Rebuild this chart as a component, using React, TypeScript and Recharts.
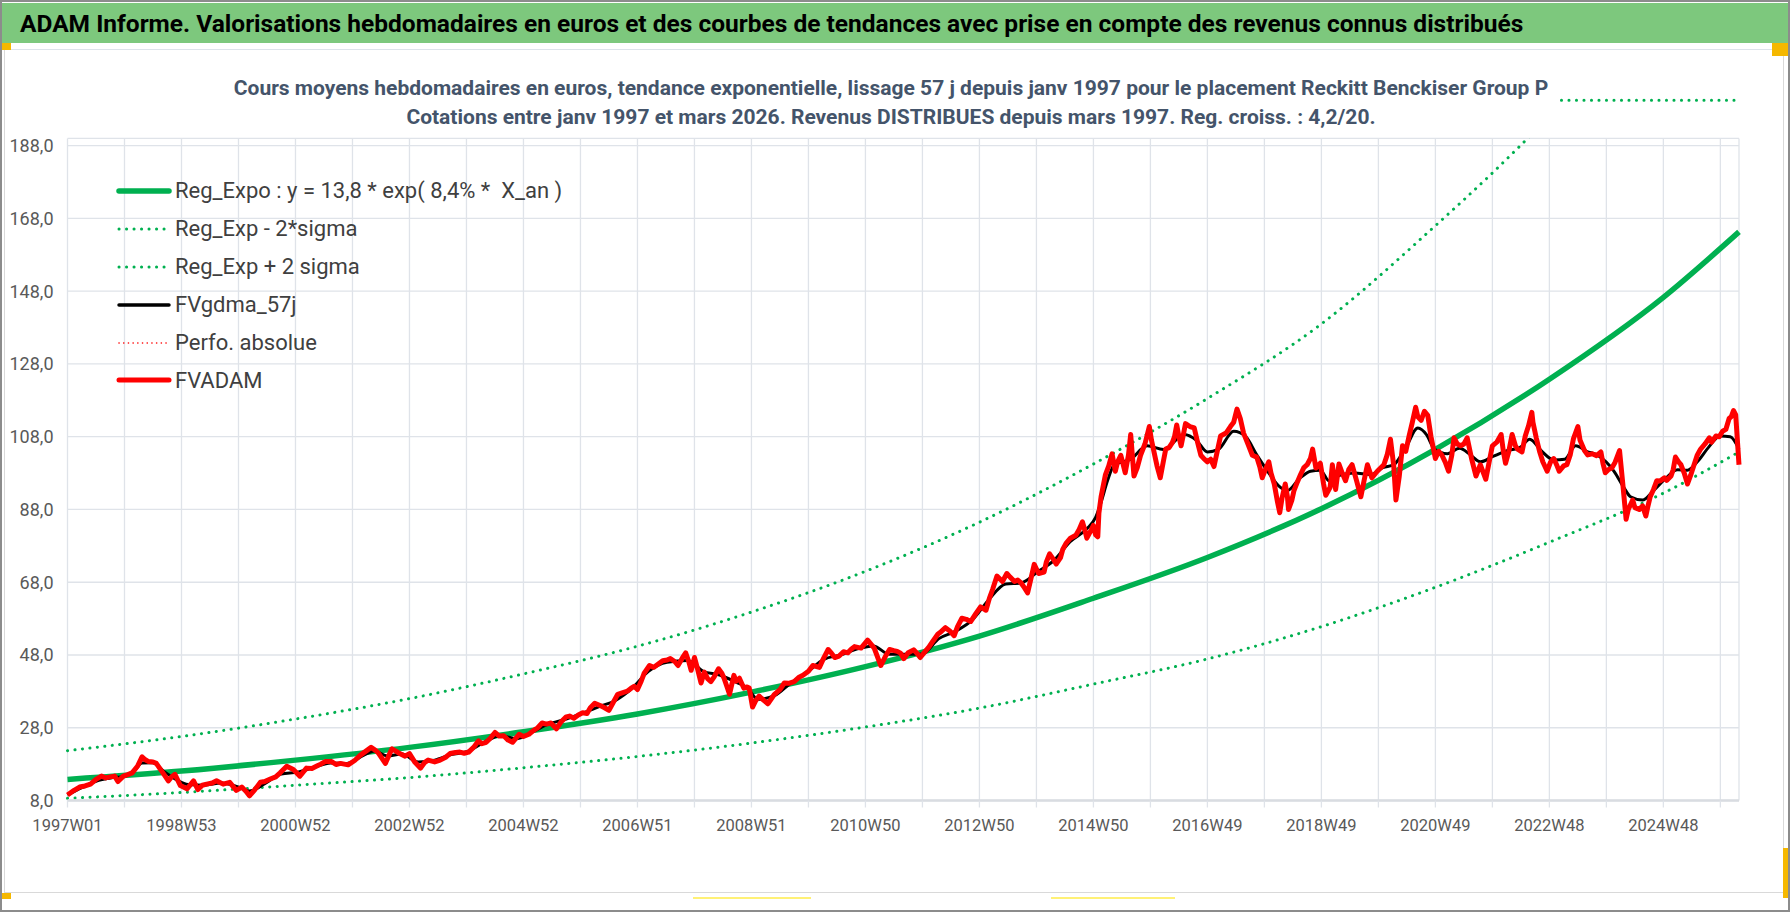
import { CartesianGrid, Line, LineChart, ReferenceLine, XAxis, YAxis } from 'recharts'

const WEEK_LABELS = [
  '1997W01', '1998W53', '2000W52', '2002W52', '2004W52', '2006W51', '2008W51', '2010W50',
  '2012W50', '2014W50', '2016W49', '2018W49', '2020W49', '2022W48', '2024W48',
]
const Y_TICKS = [8, 28, 48, 68, 88, 108, 128, 148, 168, 188]

// [week index, value]
const REG_EXPO: [number, number][] = [
  [0, 13.8], [104, 16.1], [208, 19.1], [312, 22.6], [416, 26.9], [520, 31.8], [624, 37.8],
  [728, 44.8], [832, 53.2], [936, 63.6], [1040, 74.8], [1144, 88.2], [1248, 104.5],
  [1352, 123.8], [1456, 146.3], [1525, 164.3],
]
const REG_MINUS: [number, number][] = [
  [0, 8.6], [104, 10.2], [208, 12.2], [312, 14.3], [416, 17], [520, 20.1], [624, 23.8],
  [728, 28.2], [832, 33.4], [936, 40], [1040, 46.9], [1144, 55.8], [1248, 66.6], [1352, 79],
  [1456, 92.5], [1525, 103.8],
]
const REG_PLUS: [number, number][] = [
  [0, 21.7], [104, 25.6], [208, 30.4], [312, 36], [416, 42.8], [520, 50.4], [624, 59.8],
  [728, 71], [832, 84.5], [936, 100.5], [1040, 118.5], [1144, 139], [1248, 166], [1300, 180.5],
  [1352, 196],
]
const FVGDMA: [number, number][] = [
  [0, 9.5], [13, 11.5], [26, 13.3], [39, 14.2], [52, 14.6], [60, 15.8], [68, 18.3], [78, 18.4],
  [88, 16], [100, 13.6], [110, 12.4], [125, 12.2], [140, 12.8], [155, 11.8], [166, 10.6],
  [180, 12.6], [195, 15.3], [210, 15.8], [225, 17.1], [240, 18.3], [255, 18.2], [270, 20.4],
  [280, 21.6], [292, 20.2], [305, 20.8], [320, 18.6], [335, 19.1], [350, 20.6], [365, 21.5],
  [380, 24], [395, 25.8], [410, 25], [425, 27], [438, 28.9], [455, 30.4], [470, 32],
  [485, 33.8], [500, 35.5], [515, 38.8], [530, 43.5], [547, 46], [566, 46.5], [580, 43.5],
  [595, 42.5], [610, 40.5], [620, 39], [630, 35.8], [645, 36.8], [660, 40.3], [675, 43.3],
  [690, 46.8], [705, 48], [720, 49.6], [735, 50.5], [750, 48.2], [765, 48.2], [780, 48.3],
  [795, 52.5], [810, 54.5], [825, 57.5], [840, 63], [856, 67.5], [870, 67.8], [885, 70.8],
  [900, 74], [915, 79.2], [930, 82.7], [938, 85.8], [943, 90], [949, 96], [955, 100.3],
  [970, 101.8], [985, 105.5], [1000, 104.5], [1019, 108.6], [1030, 107], [1040, 103.8],
  [1050, 104.5], [1064, 109.5], [1075, 108], [1085, 103], [1095, 98.5], [1105, 94.5],
  [1113, 93.2], [1124, 96.5], [1134, 98.5], [1143, 98.8], [1151, 95.9], [1162, 97.5],
  [1174, 98], [1189, 97.6], [1200, 99.5], [1210, 100.3], [1221, 105], [1232, 110.4],
  [1240, 108.5], [1247, 104.6], [1259, 103.3], [1270, 104.8], [1280, 103], [1289, 101.1],
  [1300, 102.5], [1314, 104.2], [1325, 105], [1334, 107.3], [1345, 104], [1356, 101.6],
  [1366, 101.8], [1376, 105.5], [1386, 104], [1396, 102.9], [1411, 98.5], [1420, 94],
  [1426, 91.5], [1437, 90.6], [1447, 93.2], [1458, 96.5], [1469, 98.9], [1478, 98.8],
  [1487, 101.1], [1497, 105], [1508, 108.2], [1517, 108], [1525, 104.6],
]
const FVADAM: [number, number][] = [
  [0, 9.5], [6, 10.8], [11, 11.7], [16, 12], [21, 12.5], [26, 13.8], [31, 14.7], [35, 14.2],
  [39, 14.5], [43, 14.7], [46, 13.2], [51, 14.7], [55, 15.1], [59, 15.6], [64, 17.5], [68, 20],
  [71, 19.2], [74, 18.7], [78, 18.6], [81, 18.2], [85, 16.5], [88, 15.2], [92, 13.4], [95, 14.5],
  [98, 15.2], [103, 12.1], [109, 11.2], [115, 13.4], [119, 11], [123, 12.2], [127, 12.5],
  [132, 12.8], [136, 13.4], [142, 12.5], [148, 13], [154, 10.8], [159, 11.7], [163, 10.5],
  [166, 9.3], [171, 11], [176, 13], [180, 13.2], [185, 13.9], [190, 14.5], [194, 15.6],
  [200, 17.4], [206, 16.5], [212, 14.7], [218, 16.9], [223, 16.8], [227, 17.4], [231, 18],
  [235, 18.7], [241, 18.7], [245, 17.9], [249, 18.2], [256, 17.8], [262, 19], [267, 20.4],
  [272, 21.5], [277, 22.6], [281, 21.8], [284, 20.9], [290, 18.2], [296, 22.2], [300, 21.5],
  [303, 20.9], [308, 20.2], [312, 20.9], [317, 18.5], [322, 16.9], [326, 18.5], [329, 19.1],
  [335, 18.6], [340, 19.1], [345, 19.9], [349, 20.9], [354, 21.2], [358, 21.3], [362, 21],
  [366, 21.3], [371, 22.8], [375, 24.4], [378, 23.6], [382, 24], [386, 25.2], [390, 26.7],
  [394, 25.7], [398, 25.8], [402, 24.6], [406, 24], [412, 26.2], [416, 25.6], [421, 26.2],
  [425, 27.2], [429, 28], [433, 29.3], [437, 29], [441, 29.3], [446, 27.7], [450, 29.5],
  [455, 31], [458, 31.2], [462, 30.6], [466, 31.5], [470, 32.1], [474, 31.9], [477, 33.5],
  [481, 34.7], [486, 34.1], [490, 33.5], [494, 32.8], [498, 35], [502, 37.2], [506, 37.6],
  [511, 38.1], [514, 38.8], [517, 39.4], [520, 38.5], [523, 40.5], [526, 42.9], [531, 45.1],
  [535, 44.6], [539, 45.5], [543, 46.4], [547, 46.6], [550, 47], [554, 46.2], [557, 45.1],
  [561, 47.2], [564, 48.6], [567, 46], [569, 43.8], [572, 47.3], [575, 44], [578, 40.3],
  [581, 43.3], [584, 41.5], [587, 40.7], [590, 42], [594, 44.2], [597, 43], [599, 41.6],
  [602, 39], [604, 37.2], [608, 42.4], [610, 40.8], [613, 41.6], [617, 38.9], [620, 39.2],
  [622, 38.9], [625, 33.7], [628, 35.5], [631, 36.7], [635, 35.6], [639, 34.6], [645, 37.2],
  [650, 38.5], [654, 40.3], [658, 40.2], [663, 40.7], [667, 41.8], [671, 42.4], [676, 43.5],
  [680, 45.1], [686, 44.6], [690, 47.2], [694, 49.5], [697, 48.5], [700, 47.3], [704, 47.7],
  [708, 48.9], [712, 48.6], [715, 49.6], [718, 50.3], [724, 49.9], [727, 51], [730, 52.1],
  [733, 51], [736, 49.9], [739, 47.5], [742, 45.1], [746, 47.5], [750, 49.5], [754, 49.2],
  [757, 49], [760, 48.5], [763, 47], [767, 48.6], [772, 49.4], [775, 48.5], [778, 47.3],
  [782, 48.8], [786, 50.2], [790, 52], [794, 53.7], [797, 54.4], [801, 55.5], [805, 54.6],
  [809, 53.3], [812, 55.8], [816, 58.1], [820, 57.8], [824, 57.2], [829, 59.5], [833, 61.2],
  [838, 60.3], [841, 63.5], [844, 66], [848, 69.7], [853, 68.2], [857, 70.4], [860, 69.4],
  [864, 68.2], [867, 68.6], [870, 67.8], [873, 66.5], [876, 65.1], [879, 69], [882, 72.9],
  [886, 70.4], [891, 70.8], [893, 73.5], [896, 75.8], [899, 74.5], [902, 73], [906, 74.8],
  [908, 77], [911, 78.7], [915, 80.1], [920, 80.9], [923, 82.5], [926, 84.6], [928, 82.5],
  [930, 80.1], [934, 82.4], [936, 83.6], [938, 81], [940, 80.5], [941, 87], [943, 91.5],
  [947, 97.6], [950, 100], [953, 103.3], [956, 98.5], [958, 101], [961, 102.9], [965, 98.1],
  [968, 103], [970, 108.6], [973, 97.2], [976, 99.5], [979, 102.9], [983, 106], [987, 110.8],
  [989, 107], [991, 104.2], [994, 100], [997, 96.7], [1000, 101.5], [1002, 104.6], [1005, 105],
  [1008, 106.4], [1010, 108], [1012, 111.2], [1014, 108], [1016, 105.5], [1018, 108.5],
  [1020, 111.6], [1024, 110.8], [1028, 110.4], [1031, 106.5], [1034, 102.9], [1037, 101.9],
  [1040, 101.1], [1043, 101.8], [1046, 99.8], [1049, 104], [1052, 108.2], [1057, 109],
  [1061, 110.8], [1064, 112], [1067, 115.6], [1070, 113], [1073, 109], [1077, 106],
  [1081, 102.9], [1085, 102.4], [1088, 99.5], [1090, 96.7], [1093, 99], [1096, 101.1],
  [1098, 98], [1101, 95], [1104, 90], [1106, 87.1], [1108, 91], [1111, 95], [1113, 91.5],
  [1114, 88], [1117, 90.5], [1119, 93.2], [1122, 95.5], [1125, 97.6], [1128, 99.5],
  [1131, 100.3], [1134, 102], [1136, 104.6], [1139, 99.4], [1143, 100.7], [1146, 95],
  [1148, 91.9], [1152, 94.1], [1154, 100.3], [1157, 93.5], [1160, 100.5], [1163, 98],
  [1166, 95.9], [1169, 99], [1172, 100.3], [1176, 96], [1180, 91.5], [1183, 96], [1186, 100.3],
  [1190, 96.7], [1195, 98.5], [1201, 100.3], [1204, 103], [1207, 107.3], [1210, 100],
  [1212, 90.6], [1215, 97], [1218, 105.5], [1221, 104], [1224, 108.2], [1227, 112],
  [1230, 116.1], [1232, 113.5], [1235, 112.5], [1238, 115], [1241, 113.9], [1244, 108],
  [1248, 102], [1251, 104], [1254, 102.9], [1257, 101], [1260, 98.5], [1263, 103],
  [1265, 107.7], [1268, 106], [1271, 105.5], [1274, 106], [1277, 107.7], [1281, 102],
  [1285, 97.2], [1289, 100.3], [1294, 96.3], [1297, 101], [1300, 105.5], [1304, 106.5],
  [1308, 108.6], [1310, 104], [1312, 100.7], [1315, 104], [1318, 108.6], [1321, 105.5],
  [1323, 104.6], [1327, 103.8], [1330, 108.2], [1333, 111], [1336, 114.7], [1337, 112],
  [1340, 107.7], [1343, 104], [1346, 101.1], [1350, 98.5], [1353, 101], [1356, 102],
  [1359, 100], [1361, 98.5], [1365, 100], [1368, 100.3], [1371, 103], [1374, 107.5],
  [1378, 110.8], [1380, 107], [1384, 104.2], [1387, 103], [1391, 103.3], [1395, 102.8],
  [1399, 103.8], [1401, 100.5], [1403, 98.1], [1406, 99], [1409, 99.4], [1412, 101],
  [1416, 104.2], [1419, 95], [1422, 85.3], [1424, 88], [1428, 90.6], [1430, 88.5], [1434, 88],
  [1437, 89], [1440, 86.2], [1442, 89], [1444, 91.5], [1447, 93.5], [1450, 95.9], [1453, 95.8],
  [1457, 96.7], [1459, 96], [1463, 97.2], [1465, 99], [1467, 102.4], [1470, 101], [1472, 100.3],
  [1475, 98], [1478, 95], [1481, 97.5], [1484, 100.3], [1487, 103], [1490, 104.6], [1494, 106],
  [1498, 107.7], [1500, 106.5], [1504, 108.2], [1507, 108], [1510, 109.5], [1513, 110],
  [1516, 113], [1518, 113.5], [1520, 115.2], [1522, 114], [1525, 100.3],
]

const GREEN = '#00b050'
const RED = '#ff0000'
const GRID = '#dfe3e9'
const LABEL = '#595959'
const FONT = 'Roboto, "Liberation Sans", sans-serif'

const LAST_WEEK = 1525
const X_TICKS = WEEK_LABELS.flatMap((_, i) => [i * 104, i * 104 + 52])

const rows = (pts: [number, number][]) => pts.map(([w, v]) => ({ w, v }))

const LEGEND = [
  { name: 'Reg_Expo : y = 13,8 * exp( 8,4% *  X_an )', color: GREEN, width: 5.5, dash: '' },
  { name: 'Reg_Exp - 2*sigma', color: GREEN, width: 3, dash: '0.1 7.4' },
  { name: 'Reg_Exp + 2 sigma', color: GREEN, width: 3, dash: '0.1 7.4' },
  { name: 'FVgdma_57j', color: '#000000', width: 3.5, dash: '' },
  { name: 'Perfo. absolue', color: RED, width: 1.6, dash: '0.1 4.6' },
  { name: 'FVADAM', color: RED, width: 5, dash: '' },
]

function Legend() {
  return (
    <div style={{ position: 'absolute', left: 116, top: 172, fontFamily: FONT }}>
      {LEGEND.map((e) => (
        <div key={e.name} style={{ display: 'flex', alignItems: 'center', height: 37.9 }}>
          <svg width={56} height={10} style={{ marginRight: 3 }}>
            <line
              x1={3}
              x2={53}
              y1={5}
              y2={5}
              stroke={e.color}
              strokeWidth={e.width}
              strokeDasharray={e.dash || undefined}
              strokeLinecap="round"
            />
          </svg>
          <span style={{ fontSize: 22, color: '#404040', whiteSpace: 'pre' }}>{e.name}</span>
        </div>
      ))}
    </div>
  )
}

export default function App() {
  return (
    <div
      style={{
        position: 'absolute',
        left: 0,
        top: 0,
        width: 1790,
        height: 912,
        background: '#ffffff',
        overflow: 'hidden',
        fontFamily: FONT,
      }}
    >
      <div
        style={{
          position: 'absolute',
          left: 2,
          top: 3,
          width: 1786,
          height: 40,
          background: '#7dc87d',
          color: '#000',
          fontWeight: 700,
          fontSize: 24.5,
          lineHeight: '42px',
          paddingLeft: 18,
          boxSizing: 'border-box',
          whiteSpace: 'nowrap',
        }}
      >
        ADAM Informe. Valorisations hebdomadaires en euros et des courbes de tendances avec prise en compte des revenus connus distribués
      </div>
      <div style={{ position: 'absolute', left: 4, top: 49, width: 1778, height: 842, border: '1.5px solid #d9d9d9', borderTop: '1.5px solid #dde3ea' }} />
      <div style={{ position: 'absolute', left: 0, top: 43, width: 11, height: 7, background: '#f5b800' }} />
      <div style={{ position: 'absolute', left: 1772, top: 43, width: 16, height: 13, background: '#f5b800' }} />
      <div style={{ position: 'absolute', left: 0, top: 893, width: 11, height: 6, background: '#f5b800' }} />
      <div style={{ position: 'absolute', left: 1783, top: 848, width: 7, height: 50, background: '#f5b800' }} />
      <div style={{ position: 'absolute', left: 693, top: 897, width: 118, height: 2, background: '#fff176' }} />
      <div style={{ position: 'absolute', left: 1051, top: 897, width: 124, height: 2, background: '#fff176' }} />
      <div
        style={{
          position: 'absolute',
          left: 0,
          top: 74,
          width: 1782,
          textAlign: 'center',
          fontWeight: 700,
          fontSize: 21,
          lineHeight: '29px',
          color: '#44546a',
        }}
      >
        <div>Cours moyens hebdomadaires en euros, tendance exponentielle, lissage 57 j depuis janv 1997 pour le placement Reckitt Benckiser Group P</div>
        <div>Cotations entre janv 1997 et mars 2026. Revenus DISTRIBUES depuis mars 1997. Reg. croiss. : 4,2/20.</div>
      </div>
      <div style={{ position: 'absolute', left: 0, top: 0 }}>
        <LineChart
          width={1790}
          height={912}
          margin={{ top: 138.4, right: 51, bottom: 81.5, left: 7.5 }}
        >
          <CartesianGrid stroke={GRID} strokeWidth={1.3} />
          <XAxis
            type="number"
            dataKey="w"
            domain={[0, LAST_WEEK]}
            ticks={X_TICKS}
            interval={0}
            tickFormatter={(v: number) => (v % 104 === 0 ? WEEK_LABELS[v / 104] : '')}
            axisLine={{ stroke: '#d9dce1', strokeWidth: 2.5 }}
            tickLine={{ stroke: GRID, strokeWidth: 1.3 }}
            tickSize={7}
            tickMargin={12}
            tick={{ fontSize: 16.5, fill: LABEL, fontFamily: FONT }}
          />
          <YAxis
            type="number"
            domain={[8, 190]}
            ticks={Y_TICKS}
            interval={0}
            allowDataOverflow
            width={60}
            axisLine={false}
            tickLine={false}
            tickMargin={8}
            tickFormatter={(v: number) => v.toFixed(1).replace('.', ',')}
            tick={{ fontSize: 18, fill: LABEL, fontFamily: FONT }}
          />
          <Line data={rows(REG_EXPO)} dataKey="v" type="monotone" stroke={GREEN} strokeWidth={5.5} dot={false} isAnimationActive={false} />
          <Line data={rows(REG_MINUS)} dataKey="v" type="monotone" stroke={GREEN} strokeWidth={3} strokeDasharray="0.1 7.4" strokeLinecap="round" dot={false} isAnimationActive={false} />
          <Line data={rows(REG_PLUS)} dataKey="v" type="monotone" stroke={GREEN} strokeWidth={3} strokeDasharray="0.1 7.4" strokeLinecap="round" dot={false} isAnimationActive={false} />
          <Line data={rows(FVGDMA)} dataKey="v" type="monotone" stroke="#000000" strokeWidth={3} dot={false} isAnimationActive={false} />
          <Line data={rows(FVADAM)} dataKey="v" type="linear" stroke={RED} strokeWidth={5} strokeLinejoin="round" dot={false} isAnimationActive={false} />
          <ReferenceLine
            segment={[{ x: 1363, y: 200.5 }, { x: 1521, y: 200.5 }]}
            ifOverflow="visible"
            stroke={GREEN}
            strokeWidth={3}
            strokeDasharray="0.1 7.4"
            strokeLinecap="round"
          />
        </LineChart>
      </div>
      <Legend />
      <div style={{ position: 'absolute', inset: 0, border: '2px solid #8c8c8c', pointerEvents: 'none' }} />
    </div>
  )
}
